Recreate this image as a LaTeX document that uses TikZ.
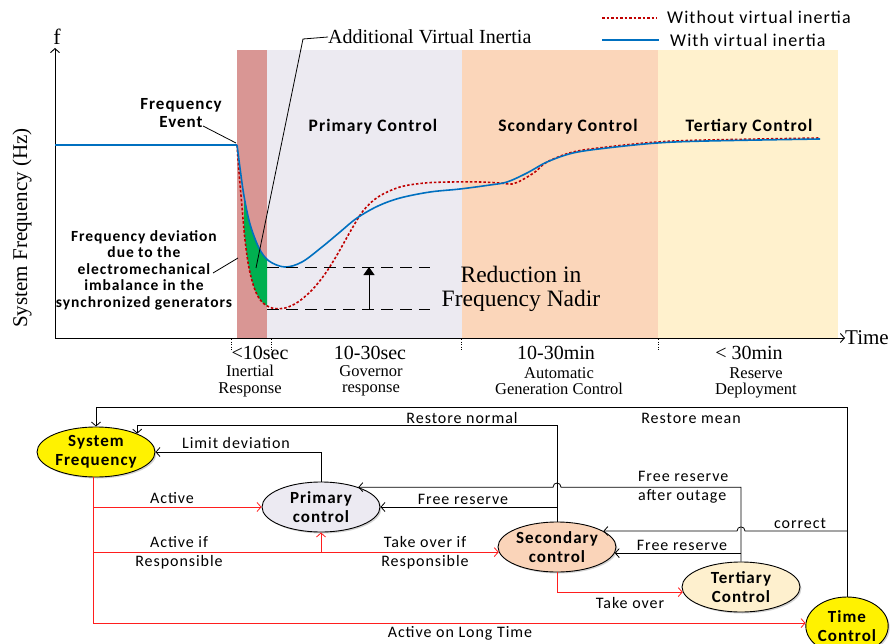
\documentclass[tikz,border=0pt]{standalone}
\usepackage{fontspec}
\setmainfont{Liberation Serif}
\newfontfamily\calfont{Carlito}[LetterSpace=6]
\usetikzlibrary{arrows.meta,shapes.geometric,shadows,calc}
\definecolor{pinkb}{RGB}{217,150,148}
\definecolor{lavb}{RGB}{236,234,241}
\definecolor{orab}{RGB}{251,214,186}
\definecolor{yelb}{RGB}{255,241,205}
\definecolor{cblue}{RGB}{0,112,192}
\definecolor{cred}{RGB}{192,0,0}
\definecolor{cgreen}{RGB}{0,176,80}
\definecolor{lred}{RGB}{255,30,30}
\definecolor{ellpc}{RGB}{236,234,242}
\definecolor{ellsec}{RGB}{250,212,185}
\definecolor{ellter}{RGB}{254,240,206}
\newcommand\bluecurve{plot[smooth,tension=0.55] coordinates {(237,145) (240,168) (244,196) (250,224) (259,248) (269,261) (285,267) (302,262) (322,247) (340,232) (357,218) (378,206) (400,198) (430,192) (460,189) (490,185) (507,182) (527,173) (547,162) (573,153) (607,148) (657,143) (707,141) (820,139)}}
\newcommand\redcurve{plot[smooth,tension=0.55] coordinates {(237,145) (239,172) (242,207) (245,240) (249,268) (255,290) (262,302) (272,308) (285,308) (298,302) (312,290) (325,274) (337,255) (350,232) (363,211) (378,197) (400,187) (425,183) (450,182) (480,182) (500,183) (512,184) (522,180) (535,172) (547,162) (573,152) (607,147) (657,142) (707,140) (820,138)}}
\begin{document}
\begin{tikzpicture}[x=1pt,y=-1pt,
  sl/.style={font=\calfont\fontsize{16}{19}\selectfont, inner sep=0pt, align=center},
  bl/.style={font=\calfont\bfseries\fontsize{15.5}{16.5}\selectfont, inner sep=0pt, align=center},
  srf/.style={font=\fontsize{16.5}{16.5}\selectfont, inner sep=0pt, align=center},
  big/.style={font=\fontsize{20}{20}\selectfont, inner sep=0pt, align=center},
  ell/.style={ellipse, draw=black, line width=0.9pt, minimum width=118pt, minimum height=50pt, inner sep=0pt, align=center,
    font=\calfont\bfseries\fontsize{17}{19}\selectfont,
    drop shadow={shadow xshift=1.5pt,shadow yshift=-1.5pt,opacity=0.35}},
  arr/.style={draw=black, line width=0.8pt, -{Straight Barb[length=4pt,width=9pt]}},
  rarr/.style={draw=lred, line width=0.8pt, -{Straight Barb[length=4pt,width=9pt]}},
  thinl/.style={draw=black, line width=0.8pt},
  tickl/.style={draw=black, line width=0.8pt, dash pattern=on 1pt off 1.5pt},
  bcurve/.style={draw=cblue, line width=1.6pt},
  rcurve/.style={draw=cred, line width=1.6pt, dash pattern=on 2.5pt off 2pt},
  band/.style={font=\calfont\bfseries\fontsize{17.5}{18}\selectfont, inner sep=0pt}
]
\useasboundingbox (0,0) rectangle (890,644);
% ---------- bands
\fill[pinkb] (237,50) rectangle (267,338);
\fill[lavb] (267,50) rectangle (462,338);
\fill[orab] (462,50) rectangle (658,338);
\fill[yelb] (658,50) rectangle (838,338);
% ---------- axes
\coordinate (O) at (55,338);
\coordinate (ytop) at (55,48);
\coordinate (xend) at (845,338);
\draw[arr, line width=0.9pt] (O) -- (ytop);
\draw[arr, line width=0.9pt] (O) -- (xend);
\node[big, font=\fontsize{22}{22}\selectfont] (flab) at (57,37) {f};
\node[big, font=\fontsize{21}{21}\selectfont, anchor=west] (tlab) at (xend) {Time};
\node[big, font=\fontsize{21}{21}\selectfont, rotate=90] (ylab) at (22,228) {System Frequency (Hz)};
% ticks
\foreach \tx in {231,271,461,658} \draw[tickl] (\tx,339) -- (\tx,351);
% labels below axis
\node[big] at (260,353) {<10sec};
\node[srf] at (250,381) {Inertial\\Response};
\node[big] at (370,353) {10-30sec};
\node[srf] at (371,381) {Governor\\response};
\node[big] at (556,353) {10-30min};
\node[srf] at (559,381) {Automatic\\Generation Control};
\node[big] at (749,353) {< 30min};
\node[srf] at (756,383) {Reserve\\Deployment};
% ---------- green region
\begin{scope}
  \clip (244,0) rectangle (267,340);
  \clip \bluecurve -- (820,345) -- (237,345) -- cycle;
  \fill[cgreen] \redcurve -- (820,0) -- (237,0) -- cycle;
\end{scope}
% ---------- curves
\draw[bcurve] (55,145) -- (237,145);
\draw[rcurve] \redcurve;
\draw[bcurve] \bluecurve;
% ---------- nadir
\draw[thinl, dash pattern=on 12pt off 7pt] (267,267) -- (430,267);
\draw[thinl, dash pattern=on 12pt off 7pt] (267,309) -- (430,309);
\coordinate (na) at (369,309);
\coordinate (nb) at (369,267);
\draw[line width=1pt, -{Triangle[length=8pt,width=11pt]}] (na) -- (nb);
\node[big, font=\fontsize{23.5}{24}\selectfont] (red) at (521,289) {Reduction in\\Frequency Nadir};
% ---------- annotations
\node[big, font=\fontsize{20}{20}\selectfont, anchor=west] (avi) at (328,37) {Additional Virtual Inertia};
\coordinate (avk) at (303,39);
\coordinate (avt) at (256,268);
\draw[thinl] (avi.west) -- (avk) -- (avt);
\node[bl, font=\calfont\bfseries\fontsize{17}{18.5}\selectfont] (fev) at (181,113) {Frequency\\Event};
\coordinate (fevt) at (236,143);
\draw[thinl] (203,126) -- (fevt);
\node[bl] (fdev) at (144,270) {Frequency deviation\\due to the\\electromechanical\\imbalance in the\\synchronized generators};
\coordinate (fdt) at (238,258);
\draw[thinl] (213,273) -- (fdt);
\node[band] at (373,127) {Primary Control};
\node[band] at (568,127) {Scondary Control};
\node[band] at (749,127) {Tertiary Control};
% ---------- legend
\draw[rcurve, line width=1.3pt] (602,18) -- (657,18);
\draw[bcurve] (602,40) -- (659,40);
\node[sl, font=\calfont\fontsize{18}{18}\selectfont, anchor=west] at (667,17) {Without virtual inertia};
\node[sl, font=\calfont\fontsize{18}{18}\selectfont, anchor=west] at (670,40) {With virtual inertia};
% ---------- bottom diagram nodes
\node[ell, fill=yellow] (sf) at (96,452) {System\\Frequency};
\node[ell, fill=ellpc] (pc) at (321,507) {Primary\\control};
\node[ell, fill=ellsec] (sec) at (557,547) {Secondary\\control};
\node[ell, fill=ellter] (ter) at (741,587) {Tertiary\\Control};
\node[ell, fill=yellow, minimum width=82pt, minimum height=58pt] (tc) at (847,626) {Time\\Control};
% helper coordinates
\coordinate (ytopl) at (0,407);
\coordinate (ynorm) at (0,425);
\coordinate (c2) at (sf.24);
\coordinate (cpf) at (pc.28);
\coordinate (cc) at (sec.19);
\coordinate (csf) at (sec.-6);
\coordinate (rl) at (sf.-95);
% black connectors
\draw[arr] (tc.north) -- (tc.north |- ytopl) -- (sf.north |- ytopl) -- (sf.north);
\draw[arr] (sec.north) -- (sec.north |- ynorm) -- (c2 |- ynorm) -- (c2);
\draw[arr] (pc.north) |- (sf.east);
\draw[arr] (sec.north |- pc.east) -- (pc.east);
\coordinate (bA) at ($(sec.north |- cpf)+(4,0)$);
\coordinate (bB) at ($(sec.north |- cpf)+(-4,0)$);
\draw[arr] (ter.north) -- (ter.north |- cpf) -- (bA) .. controls ($(bA)+(0,-5.5)$) and ($(bB)+(0,-5.5)$) .. (bB) -- (cpf);
\draw[arr] (ter.north |- csf) -- (csf);
\coordinate (bC) at ($(ter.north |- cc)+(4,0)$);
\coordinate (bD) at ($(ter.north |- cc)+(-4,0)$);
\draw[arr] (tc.north |- cc) -- (bC) .. controls ($(bC)+(0,-5.5)$) and ($(bD)+(0,-5.5)$) .. (bD) -- (cc);
% red connectors
\draw[rarr] (rl) |- (tc.176);
\draw[rarr] (rl |- pc.west) -- (pc.west);
\draw[rarr] (rl |- sec.185) -- (sec.185);
\draw[rarr] (pc.south |- sec.185) -- (pc.south);
\draw[rarr] (sec.south) |- (ter.185);
% labels
\node[sl] at (691,418) {Restore mean};
\node[sl] at (462,418) {Restore normal};
\node[sl] at (236,443) {Limit deviation};
\node[sl] at (463,499) {Free reserve};
\node[sl, anchor=west, align=left] at (638,487) {Free reserve\\after outage};
\node[sl] at (800,523) {correct};
\node[sl] at (682,545) {Free reserve};
\node[sl] at (172,498) {Active};
\node[sl] at (179,553) {Active if\\Responsible};
\node[sl] at (425,553) {Take over if\\Responsible};
\node[sl] at (630,603) {Take over};
\node[sl] at (460,633) {Active on Long Time};
\end{tikzpicture}
\end{document}
